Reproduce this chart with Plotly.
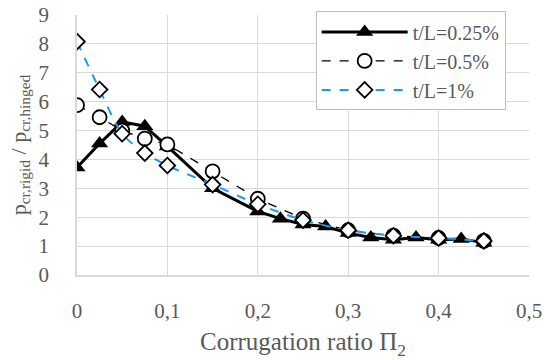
import plotly.graph_objects as go

x_025 = [0, 0.025, 0.05, 0.075, 0.1, 0.15, 0.2, 0.225, 0.25, 0.275, 0.3, 0.325, 0.35, 0.375, 0.4, 0.425, 0.45]
y_025 = [3.72, 4.55, 5.3, 5.15, 4.45, 3.0, 2.2, 1.95, 1.75, 1.68, 1.45, 1.3, 1.22, 1.3, 1.22, 1.25, 1.12]

x_05 = [0, 0.025, 0.05, 0.075, 0.1, 0.15, 0.2, 0.25, 0.3, 0.35, 0.4, 0.45]
y_05 = [5.88, 5.46, 5.0, 4.72, 4.52, 3.59, 2.64, 1.95, 1.55, 1.36, 1.28, 1.18]

x_1 = [0, 0.025, 0.05, 0.075, 0.1, 0.15, 0.2, 0.25, 0.3, 0.35, 0.4, 0.45]
y_1 = [8.08, 6.42, 4.89, 4.22, 3.79, 3.13, 2.45, 1.9, 1.55, 1.36, 1.28, 1.18]

x_ticks = [0, 0.1, 0.2, 0.3, 0.4, 0.5]
x_ticklabels = ["0", "0,1", "0,2", "0,3", "0,4", "0,5"]
y_ticks = list(range(0, 10))

names = ["t/L=0.25%", "t/L=0.5%", "t/L=1%"]

FONT = "Liberation Serif"
GRAY = "#595959"
GRID = "#d9d9d9"

fig = go.Figure()
fig.add_trace(go.Scatter(
    x=x_025, y=y_025, name=names[0], mode="lines+markers",
    line=dict(color="black", width=3),
    marker=dict(symbol="triangle-up", size=15, color="black", line=dict(width=0)),
))
fig.add_trace(go.Scatter(
    x=x_05, y=y_05, name=names[1], mode="lines+markers",
    line=dict(color="black", width=1.3, dash="dash"),
    marker=dict(symbol="circle", size=14, color="white", line=dict(color="black", width=1.8)),
))
fig.add_trace(go.Scatter(
    x=x_1, y=y_1, name=names[2], mode="lines+markers",
    line=dict(color="#1a9af0", width=2, dash="dash", shape="spline", smoothing=0.8),
    marker=dict(symbol="diamond", size=12, color="white", line=dict(color="black", width=1.8)),
))

fig.update_layout(
    width=551, height=360,
    margin=dict(l=77, r=22, t=14, b=85),
    paper_bgcolor="white", plot_bgcolor="white",
    separators=",.",
    font=dict(family=FONT, color=GRAY, size=20),
    showlegend=True,
    legend=dict(
        x=0.528, y=1.01, xanchor="left", yanchor="top",
        bgcolor="white", bordercolor="#bfbfbf", borderwidth=1,
        font=dict(family=FONT, size=20, color=GRAY),
        itemwidth=86, tracegroupgap=0, entrywidth=120,
    ),
    xaxis=dict(
        range=[0, 0.5], tickvals=x_ticks, ticktext=x_ticklabels,
        showgrid=True, gridcolor=GRID, gridwidth=1,
        showline=True, linecolor=GRID, linewidth=1.5,
        zeroline=False, ticks="", ticklabelstandoff=16, automargin=False,
        tickfont=dict(family=FONT, size=21, color=GRAY),
        title=dict(text="Corrugation ratio Π<sub>2</sub>", font=dict(family=FONT, size=25, color=GRAY), standoff=11),
    ),
    yaxis=dict(
        range=[0, 9], tickvals=y_ticks,
        showgrid=True, gridcolor=GRID, gridwidth=1,
        showline=True, linecolor=GRID, linewidth=1.5,
        zeroline=False, ticks="", ticklabelstandoff=22, automargin=False,
        tickfont=dict(family=FONT, size=21, color=GRAY),
        title=dict(text="p<sub>cr,rigid</sub> / p<sub>cr,hinged</sub>", font=dict(family=FONT, size=22, color=GRAY), standoff=6),
    ),
)

fig.write_html("out.html")
